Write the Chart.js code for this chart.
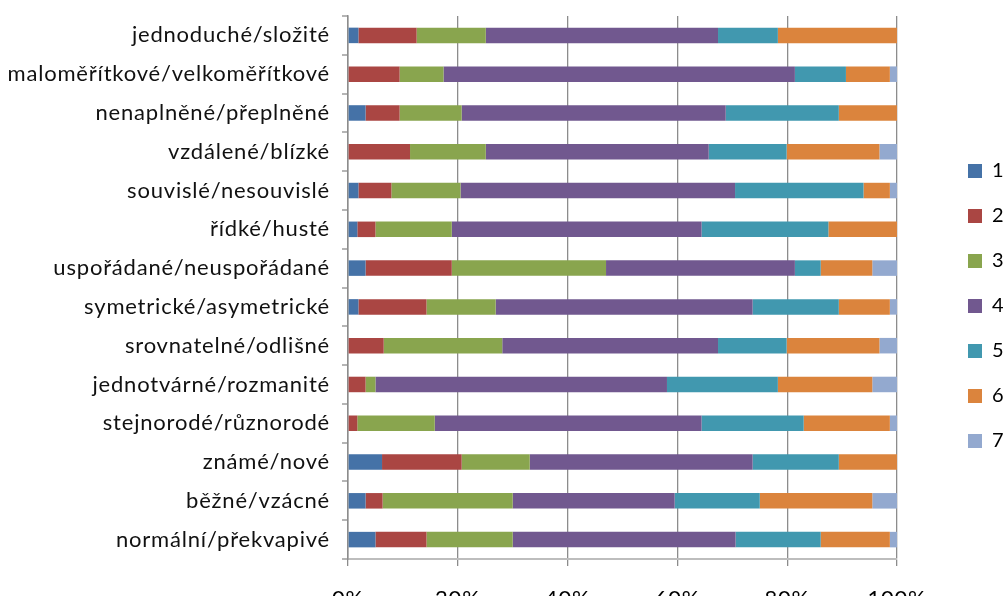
<!DOCTYPE html>
<html>
<head>
<meta charset="utf-8">
<script src="https://cdn.jsdelivr.net/npm/chart.js@4"></script>
<style>
  html, body { margin: 0; padding: 0; background: #fff; overflow: hidden; }
  #wrap { width: 1004px; height: 608px; }
  canvas { display: block; }
</style>
</head>
<body>
<div id="wrap"><canvas id="myChart" width="1004" height="608"></canvas></div>
<script>
// dvojice přídavných jmen (shora dolů)
const categories = [
    'jednoduché/složité',
    'maloměřítkové/velkoměřítkové',
    'nenaplněné/přeplněné',
    'vzdálené/blízké',
    'souvislé/nesouvislé',
    'řídké/husté',
    'uspořádané/neuspořádané',
    'symetrické/asymetrické',
    'srovnatelné/odlišné',
    'jednotvárné/rozmanité',
    'stejnorodé/různorodé',
    'známé/nové',
    'běžné/vzácné',
    'normální/překvapivé'
];

// podíl odpovědí (%) pro každý stupeň škály 1–7
const scale1 = [1.9, 0, 3.2, 0, 1.9, 1.7, 3.2, 1.9, 0, 0, 0, 6.2, 3.2, 5.0];
const scale2 = [10.6, 9.4, 6.2, 11.3, 6.0, 3.3, 15.7, 12.4, 6.5, 3.2, 1.7, 14.5, 3.1, 9.3];
const scale3 = [12.6, 8.0, 11.3, 13.8, 12.6, 13.9, 28.1, 12.6, 21.6, 1.8, 14.1, 12.4, 23.7, 15.7];
const scale4 = [42.3, 64.0, 48.1, 40.6, 50.0, 45.5, 34.4, 46.8, 39.3, 53.1, 48.6, 40.6, 29.5, 40.6];
const scale5 = [10.9, 9.3, 20.6, 14.2, 23.4, 23.1, 4.7, 15.7, 12.5, 20.2, 18.6, 15.7, 15.5, 15.5];
const scale6 = [21.7, 8.0, 10.6, 16.9, 4.8, 12.5, 9.4, 9.3, 16.9, 17.2, 15.7, 10.6, 20.5, 12.6];
const scale7 = [0, 1.3, 0, 3.2, 1.3, 0, 4.5, 1.3, 3.2, 4.5, 1.3, 0, 4.5, 1.3];

const seriesNames = ['1', '2', '3', '4', '5', '6', '7'];
const xTicks = [0, 20, 40, 60, 80, 100];

const colors = ['#4572A7', '#AA4643', '#89A54E', '#71588F', '#4198AF', '#DB843D', '#93A9CF'];
const values = [scale1, scale2, scale3, scale4, scale5, scale6, scale7];

const FONT = 'Lato, "Open Sans", sans-serif';

// trochu proložené písmo pro všechny popisky
const spacing = {
    id: 'spacing',
    beforeDraw(chart) { chart.ctx.letterSpacing = '0.8px'; },
    afterDraw(chart) { chart.ctx.letterSpacing = '0px'; }
};

const ctx = document.getElementById('myChart').getContext('2d');

const myChart = new Chart(ctx, {
    type: 'bar',
    data: {
        labels: categories,
        datasets: values.map((data, i) => ({
            label: seriesNames[i],
            data: data,
            backgroundColor: colors[i],
            borderWidth: 0,
            categoryPercentage: 1,
            barPercentage: 0.4
        }))
    },
    options: {
        indexAxis: 'y',
        responsive: false,
        animation: false,
        layout: {
            padding: { top: 16, bottom: 12, left: 0, right: 1 }
        },
        scales: {
            x: {
                stacked: true,
                min: 0,
                max: 100,
                afterBuildTicks: (axis) => {
                    axis.ticks = xTicks.map(v => ({ value: v }));
                },
                afterFit: (axis) => { axis.height = 37; },
                ticks: {
                    callback: (v) => v + '%',
                    color: '#000',
                    padding: 20,
                    maxRotation: 0,
                    font: { family: FONT, size: 22 }
                },
                grid: {
                    color: '#8c8c8c',
                    lineWidth: 1.3,
                    tickLength: 7
                },
                border: { color: '#bdbdbd', width: 2 }
            },
            y: {
                stacked: true,
                afterFit: (axis) => {
                    axis.width = 348;
                    // popisky nemají posouvat horní/dolní okraj grafu
                    axis.paddingTop = 0;
                    axis.paddingBottom = 0;
                },
                ticks: {
                    color: '#111',
                    padding: 12,
                    autoSkip: false,
                    font: { family: FONT, size: 22 }
                },
                grid: {
                    offset: true,
                    drawOnChartArea: false,
                    color: '#b5b5b5',
                    lineWidth: 2,
                    tickLength: 6
                },
                border: { color: '#8c8c8c', width: 1.5 }
            },
            // prázdná osa vpravo jen kvůli mezeře mezi grafem a legendou
            gap: {
                type: 'linear',
                axis: 'y',
                position: 'right',
                afterFit: (axis) => {
                    axis.width = 46;
                    axis.paddingTop = 0;
                    axis.paddingBottom = 0;
                },
                ticks: { display: false },
                grid: { display: false },
                border: { display: false }
            }
        },
        plugins: {
            legend: {
                position: 'right',
                maxWidth: 60,
                labels: {
                    boxWidth: 14,
                    boxHeight: 14,
                    padding: 25,
                    color: '#000',
                    font: { family: FONT, size: 20 }
                }
            },
            tooltip: { enabled: false }
        }
    },
    plugins: [spacing]
});
</script>
</body>
</html>
